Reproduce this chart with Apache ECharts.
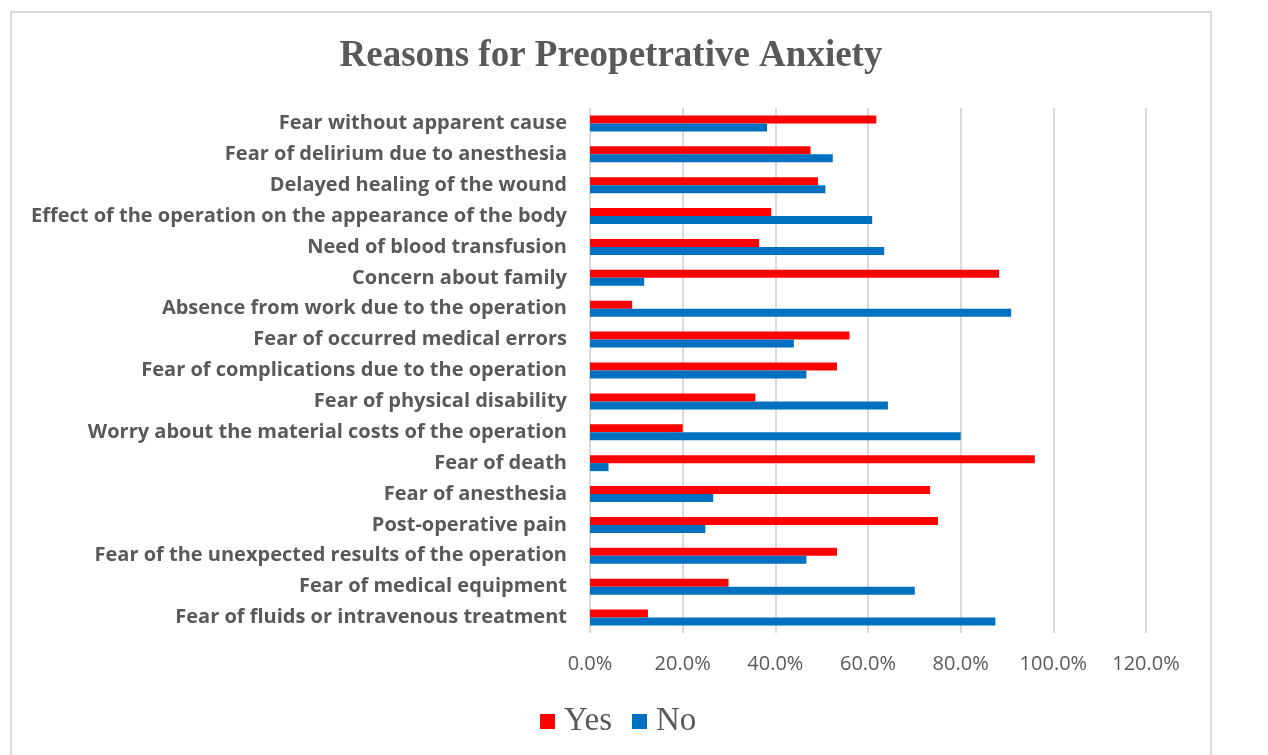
<!DOCTYPE html>
<html>
<head>
<meta charset="utf-8">
<script src="https://cdn.jsdelivr.net/npm/echarts@6/dist/echarts.min.js"></script>
<style>
  html, body { margin: 0; padding: 0; background: #fff; }
  #chart { width: 1268px; height: 755px; }
</style>
</head>
<body>
<div id="chart"></div>
<script>
// categories listed top to bottom, as in the picture
const categories = [
  "Fear without apparent cause",
  "Fear of delirium due to anesthesia",
  "Delayed healing of the wound",
  "Effect of the operation on the appearance of the body",
  "Need of blood transfusion",
  "Concern about family",
  "Absence from work due to the operation",
  "Fear of occurred medical errors",
  "Fear of complications due to the operation",
  "Fear of physical disability",
  "Worry about the material costs of the operation",
  "Fear of death",
  "Fear of anesthesia",
  "Post-operative pain",
  "Fear of the unexpected results of the operation",
  "Fear of medical equipment",
  "Fear of fluids or intravenous treatment",
];

const yesValues = [61.8, 47.6, 49.2, 39.1, 36.5, 88.3, 9.1, 56.0, 53.3, 35.7, 20.0, 96.0, 73.4, 75.1, 53.3, 29.9, 12.5];
const noValues  = [38.2, 52.4, 50.8, 60.9, 63.5, 11.7, 90.9, 44.0, 46.7, 64.3, 80.0, 4.0, 26.6, 24.9, 46.7, 70.1, 87.5];

const xTicks = [0, 20, 40, 60, 80, 100, 120];

const RED = "#FF0000";
const BLUE = "#0070C0";
const GREY = "#595959";

const chart = echarts.init(document.getElementById("chart"));

chart.setOption({
  animation: false,
  backgroundColor: "#ffffff",
  graphic: [{
    type: "rect",
    shape: { x: 11, y: 12, width: 1200, height: 800 },
    style: { fill: "none", stroke: "#d9d9d9", lineWidth: 2 },
    silent: true,
  }],
  title: {
    text: "Reasons for Preopetrative Anxiety",
    left: 606,
    textAlign: "center",
    top: 33,
    textStyle: {
      fontFamily: "Liberation Serif",
      fontWeight: "bold",
      fontSize: 37,
      color: GREY,
    },
  },
  legend: {
    data: ["Yes", "No"],
    bottom: 12,
    left: 535,
    itemWidth: 15,
    itemHeight: 15,
    itemGap: 20,
    icon: "rect",
    textStyle: {
      fontFamily: "Liberation Serif",
      fontSize: 33,
      color: GREY,
      padding: [0, 0, 0, 4],
    },
  },
  grid: { left: 590, right: 122, top: 108, bottom: 122 },
  xAxis: {
    type: "value",
    min: xTicks[0],
    max: xTicks[xTicks.length - 1],
    interval: 20,
    axisLine: { show: false },
    axisTick: { show: false },
    axisLabel: {
      color: GREY,
      fontFamily: "Open Sans",
      fontSize: 20,
      margin: 21,
      formatter: (v) => v.toFixed(1) + "%",
    },
    splitLine: { lineStyle: { color: "#d9d9d9", width: 2 } },
  },
  yAxis: {
    type: "category",
    data: categories,
    inverse: true,
    axisLine: { show: false },
    axisTick: { show: false },
    axisLabel: {
      color: GREY,
      fontFamily: "Open Sans",
      fontWeight: "bold",
      fontSize: 20,
      margin: 23,
    },
  },
  series: [
    {
      name: "Yes",
      type: "bar",
      data: yesValues,
      barWidth: 8,
      barGap: "0%",
      itemStyle: { color: RED },
    },
    {
      name: "No",
      type: "bar",
      data: noValues,
      barWidth: 8,
      barGap: "0%",
      itemStyle: { color: BLUE },
    },
  ],
});
</script>
</body>
</html>
